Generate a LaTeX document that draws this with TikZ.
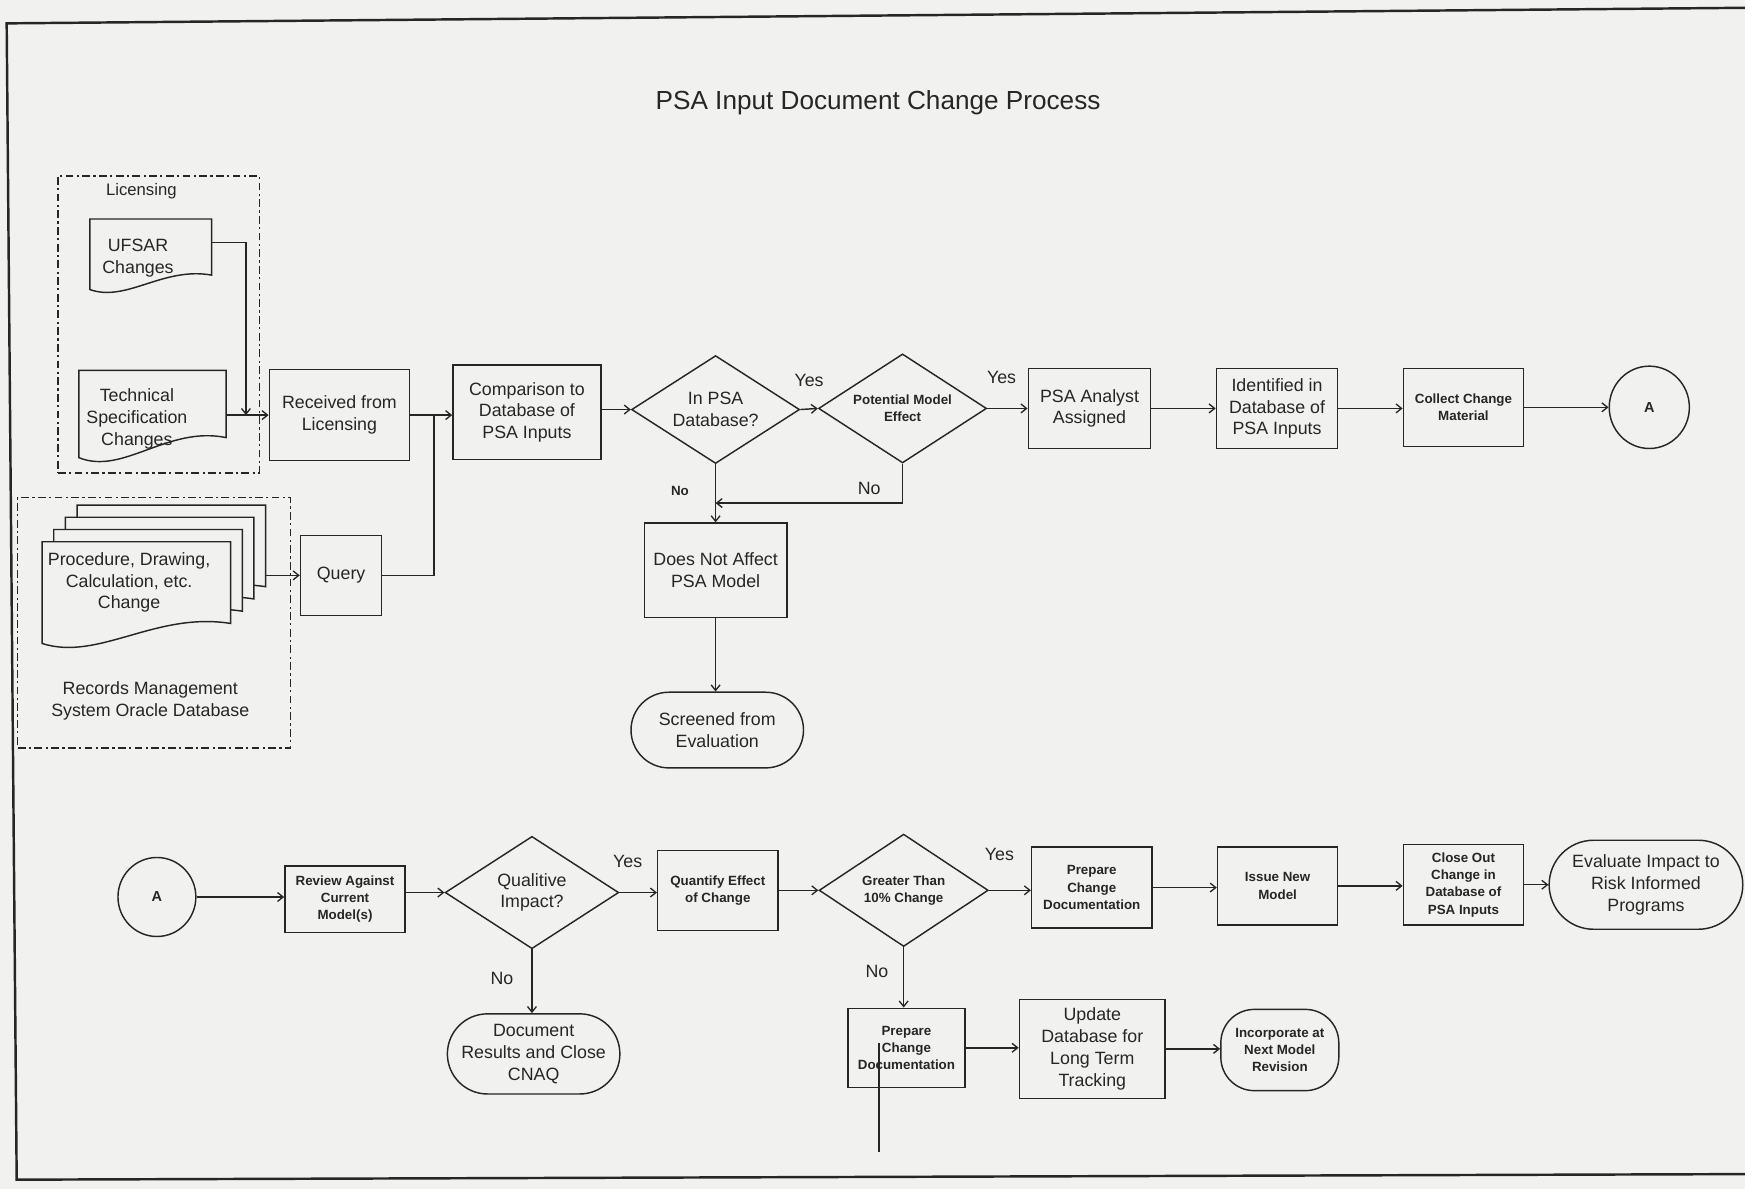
\documentclass[tikz,border=0pt]{standalone}
\usepackage{fontspec}
\setmainfont{Liberation Sans}
\usetikzlibrary{shapes.geometric, arrows.meta, calc}
\pgfdeclarelayer{back}
\pgfsetlayers{back,main}
\definecolor{bg}{RGB}{241,241,239}
\definecolor{ink}{RGB}{38,38,38}
\tikzset{
  ln/.style={draw=ink, line width=1.3pt},
  arr/.style={ln, -{Straight Barb[length=5pt,width=8pt,line width=1.2pt]}},
  big/.style={font=\fontsize{16}{19.5}\selectfont, text=ink, align=center},
  sml/.style={font=\fontsize{12}{15.5}\selectfont\bfseries, text=ink, align=center},
  proc/.style={rectangle, ln, inner sep=1pt},
  term/.style={rectangle, rounded corners=#1, ln, inner sep=1pt},
  dec/.style={diamond, ln, inner sep=0pt, aspect=1.5},
  conn/.style={ellipse, ln, inner sep=0pt, font=\fontsize{13}{15}\selectfont\bfseries, text=ink},
  docn/.style={rectangle, draw=none, inner sep=1pt},
  grp/.style={rectangle, draw=ink, line width=1.2pt, dash pattern=on 7pt off 3pt on 2pt off 3pt},
  lab/.style={font=\fontsize{16}{19}\selectfont, text=ink},
}
\newcommand{\docoutline}[2]{%
  \draw[ln, fill=bg] (#1.north west) -- (#1.north east) -- ($(#1.south east)+(0,-#2)$)
    .. controls ($(#1.south west)!0.6!(#1.south east)+(0,{-1.6*#2})$) and ($(#1.south west)!0.3!(#1.south east)+(0,{0.9*#2})$) .. (#1.south west) -- cycle;}
% text block offset inside a document shape: #1 raise, #2 right pad, #3 lines
\newcommand{\doctext}[3]{\raisebox{#1}[0pt][0pt]{\begin{tabular}{@{}c@{}}#3\end{tabular}}\hspace*{#2}}
\begin{document}
\begin{tikzpicture}[x=1pt,y=-1pt]
\useasboundingbox (0,0) rectangle (1568,1068);

% frame
\coordinate (f1) at (6,21);
\coordinate (f2) at (1568,7);
\coordinate (f3) at (15,1060);
\coordinate (f4) at (1568,1055);
\draw[ink, line width=2.2pt] (f2) -- (f1) -- (f3) -- (f4);

\node[font=\fontsize{23.5}{28}\selectfont, text=ink] (title) at (789,92) {PSA Input Document Change Process};

% Licensing group
\node[grp, minimum width=181pt, minimum height=267pt] (licgrp) at (142.5,291.5) {};
\node[lab, font=\fontsize{15}{18}\selectfont] (lictitle) at (127,172) {Licensing};
\node[docn, big, minimum width=109pt, minimum height=63pt] (ufsar) at (135.5,228.5)
  {\doctext{-8pt}{23pt}{UFSAR\\Changes}};
\node[docn, big, minimum width=132pt, minimum height=78pt] (techspec) at (137,372)
  {\doctext{-9pt}{28pt}{Technical\\Specification\\Changes}};
\node[proc, big, minimum width=126pt, minimum height=82pt] (received) at (305,373) {Received from\\Licensing};

% Records group
\node[grp, minimum width=245pt, minimum height=225pt] (recgrp) at (138.5,559.5) {};
\node[docn, minimum width=169pt, minimum height=91pt] (stack4) at (154,499.5) {};
\node[docn, minimum width=169pt, minimum height=91pt] (stack3) at (143.5,510.5) {};
\node[docn, minimum width=169pt, minimum height=91pt] (stack2) at (133,521.5) {};
\node[docn, big, minimum width=169pt, minimum height=91pt] (stack1) at (122.5,532.5)
  {\doctext{4.5pt}{13pt}{Procedure, Drawing,\\Calculation, etc.\\Change}};
\node[big] (rectitle) at (135,630) {Records Management\\System Oracle Database};
\node[proc, big, minimum width=73pt, minimum height=72pt] (query) at (306.5,517) {Query};

% main top row
\node[proc, big, minimum width=133pt, minimum height=85pt] (comparison) at (473.5,370.5) {Comparison to\\Database of\\PSA Inputs};
\node[dec, big, minimum width=151pt, minimum height=97pt] (inpsa) at (643,368) {In PSA\\Database?};
\node[dec, sml, minimum width=151pt, minimum height=98pt] (potential) at (811,367) {Potential Model\\Effect};
\node[lab] (yes1) at (727,342) {Yes};
\node[lab] (yes2) at (900,339) {Yes};
\node[proc, big, minimum width=110pt, minimum height=72pt] (psa) at (979,367) {PSA Analyst\\Assigned};
\node[proc, big, minimum width=109pt, minimum height=72pt] (identified) at (1147.5,367) {Identified in\\Database of\\PSA Inputs};
\node[proc, sml, minimum width=108pt, minimum height=70pt] (collect) at (1315,366) {Collect Change\\Material};
\node[conn, minimum width=72pt, minimum height=74pt] (a1) at (1482,366) {A};

\node[sml] (no1) at (611,441) {No};
\node[lab] (no2) at (781,439) {No};
\node[proc, big, minimum width=128pt, minimum height=85pt] (doesnot) at (643,512.5) {Does Not Affect\\PSA Model};
\node[term=34pt, big, minimum width=155pt, minimum height=68pt] (screened) at (644.5,656) {Screened from\\Evaluation};

% bottom row
\node[conn, minimum width=70pt, minimum height=71pt] (a2) at (141,806) {A};
\node[proc, sml, minimum width=108pt, minimum height=60pt] (review) at (310,808) {Review Against\\Current\\Model(s)};
\node[dec, big, minimum width=156pt, minimum height=101pt] (qual) at (478,802) {Qualitive\\Impact?};
\node[lab] (yes3) at (564,774) {Yes};
\node[proc, sml, minimum width=108pt, minimum height=72pt] (quantify) at (645,800) {Quantify Effect\\of Change};
\node[dec, sml, minimum width=152pt, minimum height=101pt] (greater) at (812,800) {Greater Than\\10\% Change};
\node[lab] (yes4) at (898,768) {Yes};
\node[proc, sml, minimum width=108pt, minimum height=73pt] (prep1) at (981,797.5) {Prepare\\Change\\Documentation};
\node[proc, sml, minimum width=108pt, minimum height=70pt] (issue) at (1148,796) {Issue New\\Model};
\node[proc, sml, minimum width=108pt, minimum height=72pt] (closeout) at (1315,795) {Close Out\\Change in\\Database of\\PSA Inputs};
\node[term=40pt, big, minimum width=174pt, minimum height=80pt] (evaluate) at (1479,795) {Evaluate Impact to\\Risk Informed\\Programs};

\node[lab] (no3) at (451,879) {No};
\node[term=36pt, big, minimum width=155pt, minimum height=72pt] (document) at (479.5,947) {Document\\Results and Close\\CNAQ};
\node[lab] (no4) at (788,873) {No};
\node[proc, sml, minimum width=105pt, minimum height=71pt] (prep2) at (814.5,941.5) {Prepare\\Change\\Documentation};
\node[proc, big, minimum width=131pt, minimum height=89pt] (update) at (981.5,942.5) {Update\\Database for\\Long Term\\Tracking};
\node[term=30pt, sml, minimum width=106pt, minimum height=73pt] (incorp) at (1150,943.5) {Incorporate at\\Next Model\\Revision};

% document outlines (behind text)
\begin{pgfonlayer}{back}
\fill[bg] (0,0) rectangle (1568,1068);
\docoutline{ufsar}{13}
\docoutline{techspec}{18}
\docoutline{stack4}{18}
\docoutline{stack3}{18}
\docoutline{stack2}{18}
\docoutline{stack1}{18}
\end{pgfonlayer}

% connectors top
\coordinate (j1) at (221,373);
\coordinate (j2) at (390,373);
\coordinate (j3) at (643,452);
\draw[arr] ($(ufsar.north east)+(0,21)$) -| (j1);
\draw[arr] (received.west -| techspec.east) -- (received.west);
\draw[arr] (received.east) -- (received.east -| comparison.west);
\draw[ln] (query.east) -| (j2);
\draw[arr] (query.west -| stack4.east) -- (query.west);
\draw[arr] (inpsa.west -| comparison.east) -- (inpsa.west);
\draw[arr] (inpsa.east) -- (potential.west);
\draw[arr] (potential.east) -- (potential.east -| psa.west);
\draw[arr] (psa.east) -- (psa.east -| identified.west);
\draw[arr] (identified.east) -- (identified.east -| collect.west);
\draw[arr] (collect.east) -- (collect.east -| a1.west);
\draw[arr] (inpsa.south) -- (doesnot.north);
\draw[arr] (potential.south) |- (j3);
\draw[arr] (doesnot.south) -- (doesnot.south |- screened.north);

% connectors bottom
\draw[arr] (a2.east) -- (a2.east -| review.west);
\draw[arr] (qual.west -| review.east) -- (qual.west);
\draw[arr] (qual.east) -- (qual.east -| quantify.west);
\draw[arr] (greater.west -| quantify.east) -- (greater.west);
\draw[arr] (greater.east) -- (greater.east -| prep1.west);
\draw[arr] (prep1.east) -- (prep1.east -| issue.west);
\draw[arr] (issue.east) -- (issue.east -| closeout.west);
\draw[arr] (closeout.east) -- (closeout.east -| evaluate.west);
\draw[arr] (qual.south) -- (qual.south |- document.north);
\draw[arr] (greater.south) -- (greater.south |- prep2.north);
\draw[arr] (prep2.east) -- (prep2.east -| update.west);
\draw[arr] (update.east) -- (update.east -| incorp.west);
\coordinate (s1) at (790,937);
\coordinate (s2) at (790,1035);
\draw[ln] (s1) -- (s2);
\end{tikzpicture}
\end{document}
